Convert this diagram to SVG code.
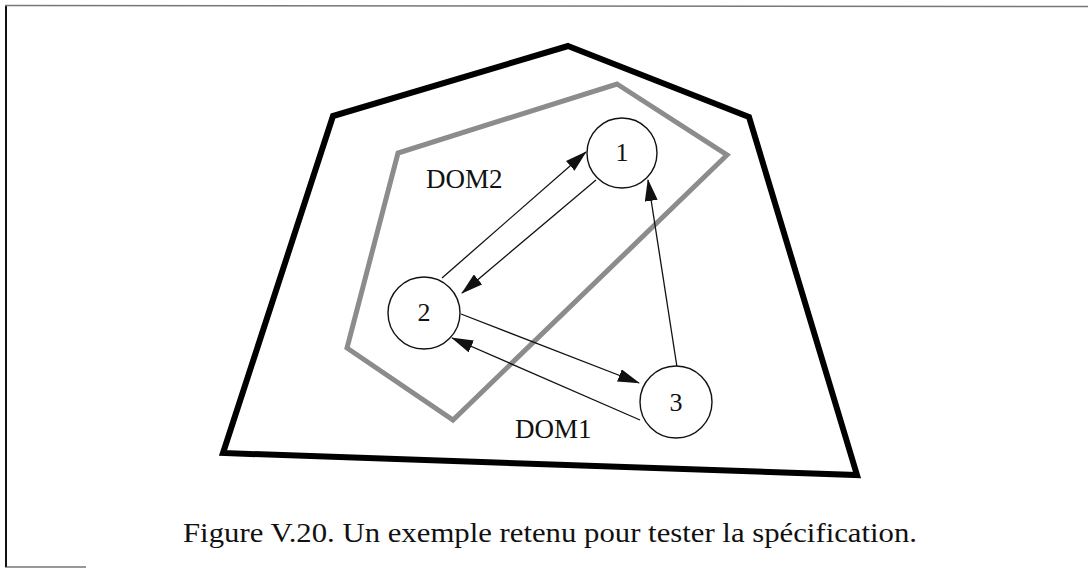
<svg xmlns="http://www.w3.org/2000/svg" width="1088" height="569" viewBox="0 0 1088 569">
<style>
.txt{font-family:"Liberation Serif","Times New Roman",serif;fill:#111;}
.node circle{fill:#fff;stroke:#111;stroke-width:1.4;}
.edge{stroke:#111;stroke-width:1.3;fill:none;marker-end:url(#ah);}
</style>
<defs>
<marker id="ah" markerUnits="userSpaceOnUse" markerWidth="22" markerHeight="13" refX="21" refY="6.5" orient="auto">
<path d="M0,0 L22,6.5 L0,13 z" fill="#111"/>
</marker>
</defs>
<rect width="1088" height="569" fill="#fff"/>
<g id="frame">
<line x1="6" y1="5" x2="6" y2="567" stroke="#111" stroke-width="2"/>
<line x1="5" y1="5.5" x2="1088" y2="6.5" stroke="#777" stroke-width="1.5"/>
<line x1="5" y1="567" x2="86" y2="567" stroke="#333" stroke-width="1.2"/>
</g>
<g id="dom1">
<polygon points="568,46 749,117 857,475 223,453 333,116" fill="none" stroke="#000" stroke-width="6" stroke-linejoin="miter"/>
<text class="txt" x="515" y="438" font-size="27">DOM1</text>
</g>
<g id="dom2">
<polygon points="617,84 727,155 453,420 347,348 398,153" fill="none" stroke="#8c8c8c" stroke-width="5" stroke-linejoin="miter"/>
<text class="txt" x="426" y="188" font-size="27">DOM2</text>
</g>
<g id="connectors">
<line class="edge" x1="442" y1="278" x2="586" y2="152"/>
<line class="edge" x1="596" y1="180" x2="462" y2="293"/>
<line class="edge" x1="677" y1="367" x2="648" y2="180"/>
<line class="edge" x1="461" y1="314" x2="639" y2="383"/>
<line class="edge" x1="640" y1="420" x2="452" y2="338"/>
</g>
<g id="node1" class="node">
<circle cx="622" cy="153" r="35"/>
<text class="txt" x="622" y="161" font-size="26" text-anchor="middle">1</text>
</g>
<g id="node2" class="node">
<circle cx="424" cy="313" r="36"/>
<text class="txt" x="424" y="321" font-size="26" text-anchor="middle">2</text>
</g>
<g id="node3" class="node">
<circle cx="676" cy="402" r="36"/>
<text class="txt" x="676" y="411" font-size="26" text-anchor="middle">3</text>
</g>
<g id="caption">
<text class="txt" x="183" y="542" font-size="28" textLength="734" lengthAdjust="spacingAndGlyphs">Figure V.20. Un exemple retenu pour tester la spécification.</text>
</g>
</svg>
